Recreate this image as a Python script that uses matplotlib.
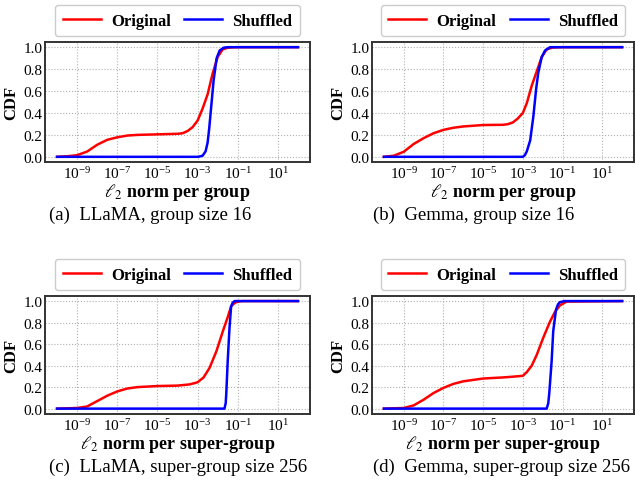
import matplotlib
matplotlib.use('Agg')
import matplotlib.pyplot as plt
import numpy as np

plt.rcParams['font.family'] = ['Liberation Serif', 'DejaVu Serif']
plt.rcParams['mathtext.fontset'] = 'stix'

# ---- data (x given as log10 of the l2 norm) ----
a_orig_x = [-10, -9.5, -9, -8.5, -8, -7.5, -7, -6.5, -6, -5, -4, -3.75, -3.5, -3.25, -3, -2.75, -2.5, -2.25, -2, -1.75, -1.5, -1.25, -1, 2]
a_orig_y = [0, 0.005, 0.015, 0.048, 0.11, 0.155, 0.178, 0.194, 0.2, 0.205, 0.21, 0.215, 0.235, 0.27, 0.33, 0.44, 0.57, 0.76, 0.91, 0.98, 0.995, 0.999, 1.0, 1.0]
a_shuf_x = [-10, -3, -2.9, -2.75, -2.6, -2.5, -2.42, -2.35, -2.2, -2.05, -1.9, -1.7, -1.5, 2]
a_shuf_y = [0, 0, 0.003, 0.01, 0.05, 0.13, 0.26, 0.4, 0.7, 0.9, 0.97, 0.995, 1.0, 1.0]

b_orig_x = [-10, -9.5, -9, -8.5, -8, -7.5, -7, -6.5, -6, -5, -4, -3.75, -3.5, -3.25, -3, -2.8, -2.55, -2.3, -2.05, -1.8, -1.5, -1, 2]
b_orig_y = [0, 0.01, 0.046, 0.117, 0.17, 0.215, 0.246, 0.265, 0.277, 0.29, 0.292, 0.298, 0.314, 0.35, 0.4, 0.49, 0.65, 0.78, 0.91, 0.98, 0.997, 1.0, 1.0]
b_shuf_x = [-10, -3, -2.9, -2.8, -2.63, -2.47, -2.33, -2.22, -2.05, -1.88, -1.63, 2]
b_shuf_y = [0, 0, 0.015, 0.05, 0.15, 0.37, 0.62, 0.77, 0.91, 0.97, 1.0, 1.0]

c_orig_x = [-10, -9, -8.5, -8, -7.5, -7, -6.5, -6, -5, -4, -3.4, -3, -2.7, -2.4, -2.06, -1.74, -1.5, -1.33, -1.2, -1.08, -0.8, 2]
c_orig_y = [0, 0.006, 0.02, 0.07, 0.12, 0.16, 0.187, 0.2, 0.21, 0.214, 0.225, 0.245, 0.29, 0.38, 0.535, 0.72, 0.85, 0.95, 0.975, 0.99, 1.0, 1.0]
c_shuf_x = [-10, -1.66, -1.6, -1.57, -1.5, -1.41, -1.33, -1.25, -1.16, 2]
c_shuf_y = [0, 0, 0.05, 0.14, 0.44, 0.75, 0.95, 0.985, 1.0, 1.0]

d_orig_x = [-10, -9, -8.5, -8, -7.5, -7, -6.5, -6, -5, -4, -3.5, -3, -2.8, -2.55, -2.3, -1.97, -1.63, -1.38, -1.13, -0.8, 2]
d_orig_y = [0, 0.006, 0.03, 0.083, 0.145, 0.193, 0.23, 0.254, 0.28, 0.29, 0.297, 0.305, 0.34, 0.4, 0.5, 0.66, 0.81, 0.9, 0.96, 0.995, 1.0]
d_shuf_x = [-10, -1.8, -1.72, -1.67, -1.55, -1.47, -1.33, -1.23, -1.13, -0.9, 2]
d_shuf_y = [0, 0, 0.05, 0.14, 0.44, 0.72, 0.92, 0.97, 0.99, 1.0, 1.0]

xlabels = [r'$\ell_2$ norm per group', r'$\ell_2$ norm per group',
           r'$\ell_2$ norm per super-group', r'$\ell_2$ norm per super-group']
captions = ['(a)  LLaMA, group size 16', '(b)  Gemma, group size 16',
            '(c)  LLaMA, super-group size 256', '(d)  Gemma, super-group size 256']
xtick_vals = [1e-9, 1e-7, 1e-5, 1e-3, 1e-1, 1e1]
ytick_vals = [0.0, 0.2, 0.4, 0.6, 0.8, 1.0]

panels = [(a_orig_x, a_orig_y, a_shuf_x, a_shuf_y),
          (b_orig_x, b_orig_y, b_shuf_x, b_shuf_y),
          (c_orig_x, c_orig_y, c_shuf_x, c_shuf_y),
          (d_orig_x, d_orig_y, d_shuf_x, d_shuf_y)]

W, H = 635, 485
fig = plt.figure(figsize=(W / 100, H / 100), dpi=100)

# axes boxes in pixels: left, right, top, bottom
boxes = [(45, 310, 42.7, 163.3), (372, 634, 42.7, 163.3),
         (45, 310, 296.7, 415), (372, 634, 296.7, 415)]
cap_pos = [(49, 215), (373, 215), (49, 467), (373, 467)]

for i, (ox, oy, sx, sy) in enumerate(panels):
    l, r, t, b = boxes[i]
    ax = fig.add_axes([l / W, 1 - b / H, (r - l) / W, (b - t) / H])
    ax.plot(10 ** np.array(ox, dtype=float), oy, color='#ff0000', lw=1.8,
            label='Original', solid_joinstyle='round')
    ax.plot(10 ** np.array(sx, dtype=float), sy, color='#0000ff', lw=1.8,
            label='Shuffled', solid_joinstyle='round')
    ax.set_xscale('log')
    ax.set_xticks(xtick_vals)
    ax.minorticks_off()
    ax.set_yticks(ytick_vals)
    ax.grid(True, ls=':', color='#b0b0b0', lw=0.8)
    ax.set_axisbelow(True)
    ax.tick_params(length=0, labelsize=11, pad=2)
    for sp in ax.spines.values():
        sp.set_color('#333333')
        sp.set_linewidth(1.4)
    ax.set_ylabel('CDF', fontweight='bold', fontsize=12, labelpad=3)
    ax.set_xlabel(xlabels[i], fontweight='bold', fontsize=13, labelpad=0)
    ax.legend(loc='lower center', bbox_to_anchor=(0.5, 1.047), ncol=2,
              prop={'weight': 'bold', 'size': 12}, handlelength=2.3,
              handletextpad=0.6, columnspacing=0.8, borderpad=0.45,
              borderaxespad=0.0,
              frameon=True, fancybox=True, edgecolor='#cccccc', framealpha=1.0)
    cx, cy = cap_pos[i]
    fig.text(cx / W, 1 - cy / H, captions[i], ha='left', va='center', fontsize=13.5)

fig.savefig('out.png', dpi=100)
